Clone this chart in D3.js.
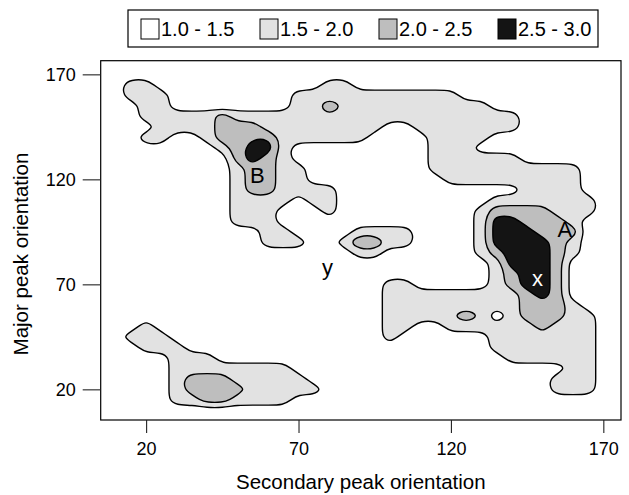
<!DOCTYPE html>
<html>
<head>
<meta charset="utf-8">
<script src="https://cdn.jsdelivr.net/npm/d3@7/dist/d3.min.js"></script>
<style>
  body { margin: 0; background: #fff; }
  svg { font-family: "Liberation Sans", Arial, sans-serif; }
</style>
</head>
<body>
<div id="chart"></div>
<script>
// Density level on a 5 degree grid.
// Columns: secondary orientation 5..175, rows: major orientation 175 (top) .. 5 (bottom)
// "," "." "-" below 1.5, "o" "=" 1.5-2.0, "m" "M" 2.0-2.5, "k" 2.5-3.0
const levelCodes = { ",": 1.05, ".": 1.25, "-": 1.35, "o": 1.75, "=": 1.95, "m": 2.25, "M": 2.45, "k": 2.75 };
const gridX0 = 5;
const gridY0 = 175;
const gridStep = 5;
const levelRows = [
  "...................................", // 175
  "...................................", // 170
  "..oo...........oo..................", // 165
  "..ooo........ooooooooooo...........", // 160
  "...oo........ooM=ooooooooo.........", // 155
  "...ooooomoooooo=oooooooooooo.......", // 150
  "....oooommmoooooooo..ooooooo.......", // 145
  "...oo..ommMMoooooo....oooo.........", // 140
  "...--...omkko.........ooo..........", // 135
  ".........mkmo.........oooooo.......", // 130
  ".........ommoo........oooooooooo...", // 125
  ".........ommoo.........ooooooooo...", // 120
  ".........ommoooo............oooo...", // 115
  ".........oooo.oo..........ooooooo..", // 110
  ".........ooo...o.........ommmmooo..", // 105
  ".........ooo.............okkmmmo...", // 100
  "...........oo....oooo....okkkmmm...", // 95
  "...........ooo..oMMoo....okkkkmo...", // 90
  ".................oo......omkkkmo...", // 85
  "..........................okkkm....", // 80
  "..........................omkkm....", // 75
  "...................oo.....omkkm....", // 70
  "...................ooooooooomkm....", // 65
  "...................ooooooooommmo...", // 60
  "...................oooo=M=,ommmoo..", // 55
  "...o...............oo..oooooomooo..", // 50
  "..ooo..............o......ooooooo..", // 45
  "...ooo....................ooooooo..", // 40
  ".....ooo...................oooooo..", // 35
  ".....oooooooo..................oo..", // 30
  ".....ommmooooo................ooo..", // 25
  ".....ommmmooooo...............ooo..", // 20
  ".....oommoooo......................", // 15
  "...................................", // 10
  "..................................."  // 5
];
const thresholds = [1.5, 2.0, 2.5];
const legendLabels = ["1.0 - 1.5", "1.5 - 2.0", "2.0 - 2.5", "2.5 - 3.0"];
const levelFills = ["#ffffff", "#e2e2e2", "#bebebe", "#141414"];
const xTicks = [20, 70, 120, 170];
const yTicks = [20, 70, 120, 170];
const peakLabels = [
  { text: "A", x: 157.4, y: 92.6, color: "#000" },
  { text: "B", x: 56.5, y: 118.4, color: "#000" },
  { text: "y", x: 79.5, y: 74.6, color: "#000" },
  { text: "x", x: 148.4, y: 69.0, color: "#fff" }
];

const width = 629;
const height = 495;
const plot = { left: 100.7, right: 621, top: 60.7, bottom: 420 };

const svg = d3.select("#chart")
  .append("svg")
  .attr("width", width)
  .attr("height", height);

const xScale = d3.scaleLinear().domain([5.1, 175.8]).range([plot.left, plot.right]);
const yScale = d3.scaleLinear().domain([5.4, 176.5]).range([plot.bottom, plot.top]);

// grid values
const nCols = levelRows[0].length;
const nRows = levelRows.length;
const values = [];
levelRows.forEach((row) => {
  for (let i = 0; i < nCols; i++) values.push(levelCodes[row[i]] ?? levelCodes["."]);
});

const contours = d3.contours().size([nCols, nRows]).thresholds(thresholds)(values);

// grid coords -> screen
const gx2px = (gx) => xScale(gridX0 + (gx - 0.5) * gridStep);
const gy2px = (gy) => yScale(gridY0 - (gy - 0.5) * gridStep);

const ringLine = d3.line().curve(d3.curveBasisClosed);
const contourPath = (c) => {
  let d = "";
  c.coordinates.forEach((polygon) => {
    polygon.forEach((ring) => {
      const pts = ring.slice(0, -1).map((p) => [gx2px(p[0]), gy2px(p[1])]);
      d += ringLine(pts);
    });
  });
  return d;
};

svg.append("defs").append("clipPath").attr("id", "plotClip")
  .append("rect")
  .attr("x", plot.left).attr("y", plot.top)
  .attr("width", plot.right - plot.left).attr("height", plot.bottom - plot.top);

svg.append("g")
  .attr("clip-path", "url(#plotClip)")
  .selectAll("path")
  .data(contours)
  .join("path")
  .attr("d", contourPath)
  .attr("fill", (d, i) => levelFills[i + 1])
  .attr("fill-rule", "evenodd")
  .attr("stroke", "#000")
  .attr("stroke-width", 1.4)
  .attr("stroke-linejoin", "round");

// peak labels
svg.append("g")
  .selectAll("text")
  .data(peakLabels)
  .join("text")
  .attr("x", (d) => xScale(d.x))
  .attr("y", (d) => yScale(d.y))
  .attr("text-anchor", "middle")
  .attr("font-size", 22)
  .attr("fill", (d) => d.color)
  .text((d) => d.text);

// frame
svg.append("rect")
  .attr("x", plot.left).attr("y", plot.top)
  .attr("width", plot.right - plot.left).attr("height", plot.bottom - plot.top)
  .attr("fill", "none")
  .attr("stroke", "#000")
  .attr("stroke-width", 1.2);

// axes
const xAxis = svg.append("g")
  .attr("transform", `translate(0, ${plot.bottom})`)
  .call(d3.axisBottom(xScale).tickValues(xTicks).tickSize(13).tickPadding(9));
const yAxis = svg.append("g")
  .attr("transform", `translate(${plot.left}, 0)`)
  .call(d3.axisLeft(yScale).tickValues(yTicks).tickSize(18).tickPadding(7));
[xAxis, yAxis].forEach((g) => {
  g.select(".domain").remove();
  g.selectAll("line").attr("stroke", "#222").attr("stroke-width", 1.1);
  g.selectAll("text")
    .attr("font-family", "Liberation Sans, Arial, sans-serif")
    .attr("font-size", 18)
    .attr("fill", "#000");
});

// axis titles
svg.append("text")
  .attr("x", (plot.left + plot.right) / 2)
  .attr("y", 489)
  .attr("text-anchor", "middle")
  .attr("font-size", 20.5)
  .text("Secondary peak orientation");
svg.append("text")
  .attr("transform", "translate(28, 254) rotate(-90)")
  .attr("text-anchor", "middle")
  .attr("font-size", 20.5)
  .text("Major peak orientation");

// legend
const legend = svg.append("g");
legend.append("rect")
  .attr("x", 128).attr("y", 10)
  .attr("width", 470).attr("height", 37)
  .attr("fill", "#fff")
  .attr("stroke", "#000")
  .attr("stroke-width", 1.2);
const items = legend.selectAll("g.item")
  .data(legendLabels)
  .join("g")
  .attr("class", "item")
  .attr("transform", (d, i) => `translate(${141 + i * 119}, 0)`);
items.append("rect")
  .attr("x", 0).attr("y", 19)
  .attr("width", 18).attr("height", 20)
  .attr("fill", (d, i) => levelFills[i])
  .attr("stroke", "#000")
  .attr("stroke-width", 1);
items.append("text")
  .attr("x", 20).attr("y", 36)
  .attr("font-size", 20)
  .text((d) => d);
</script>
</body>
</html>
